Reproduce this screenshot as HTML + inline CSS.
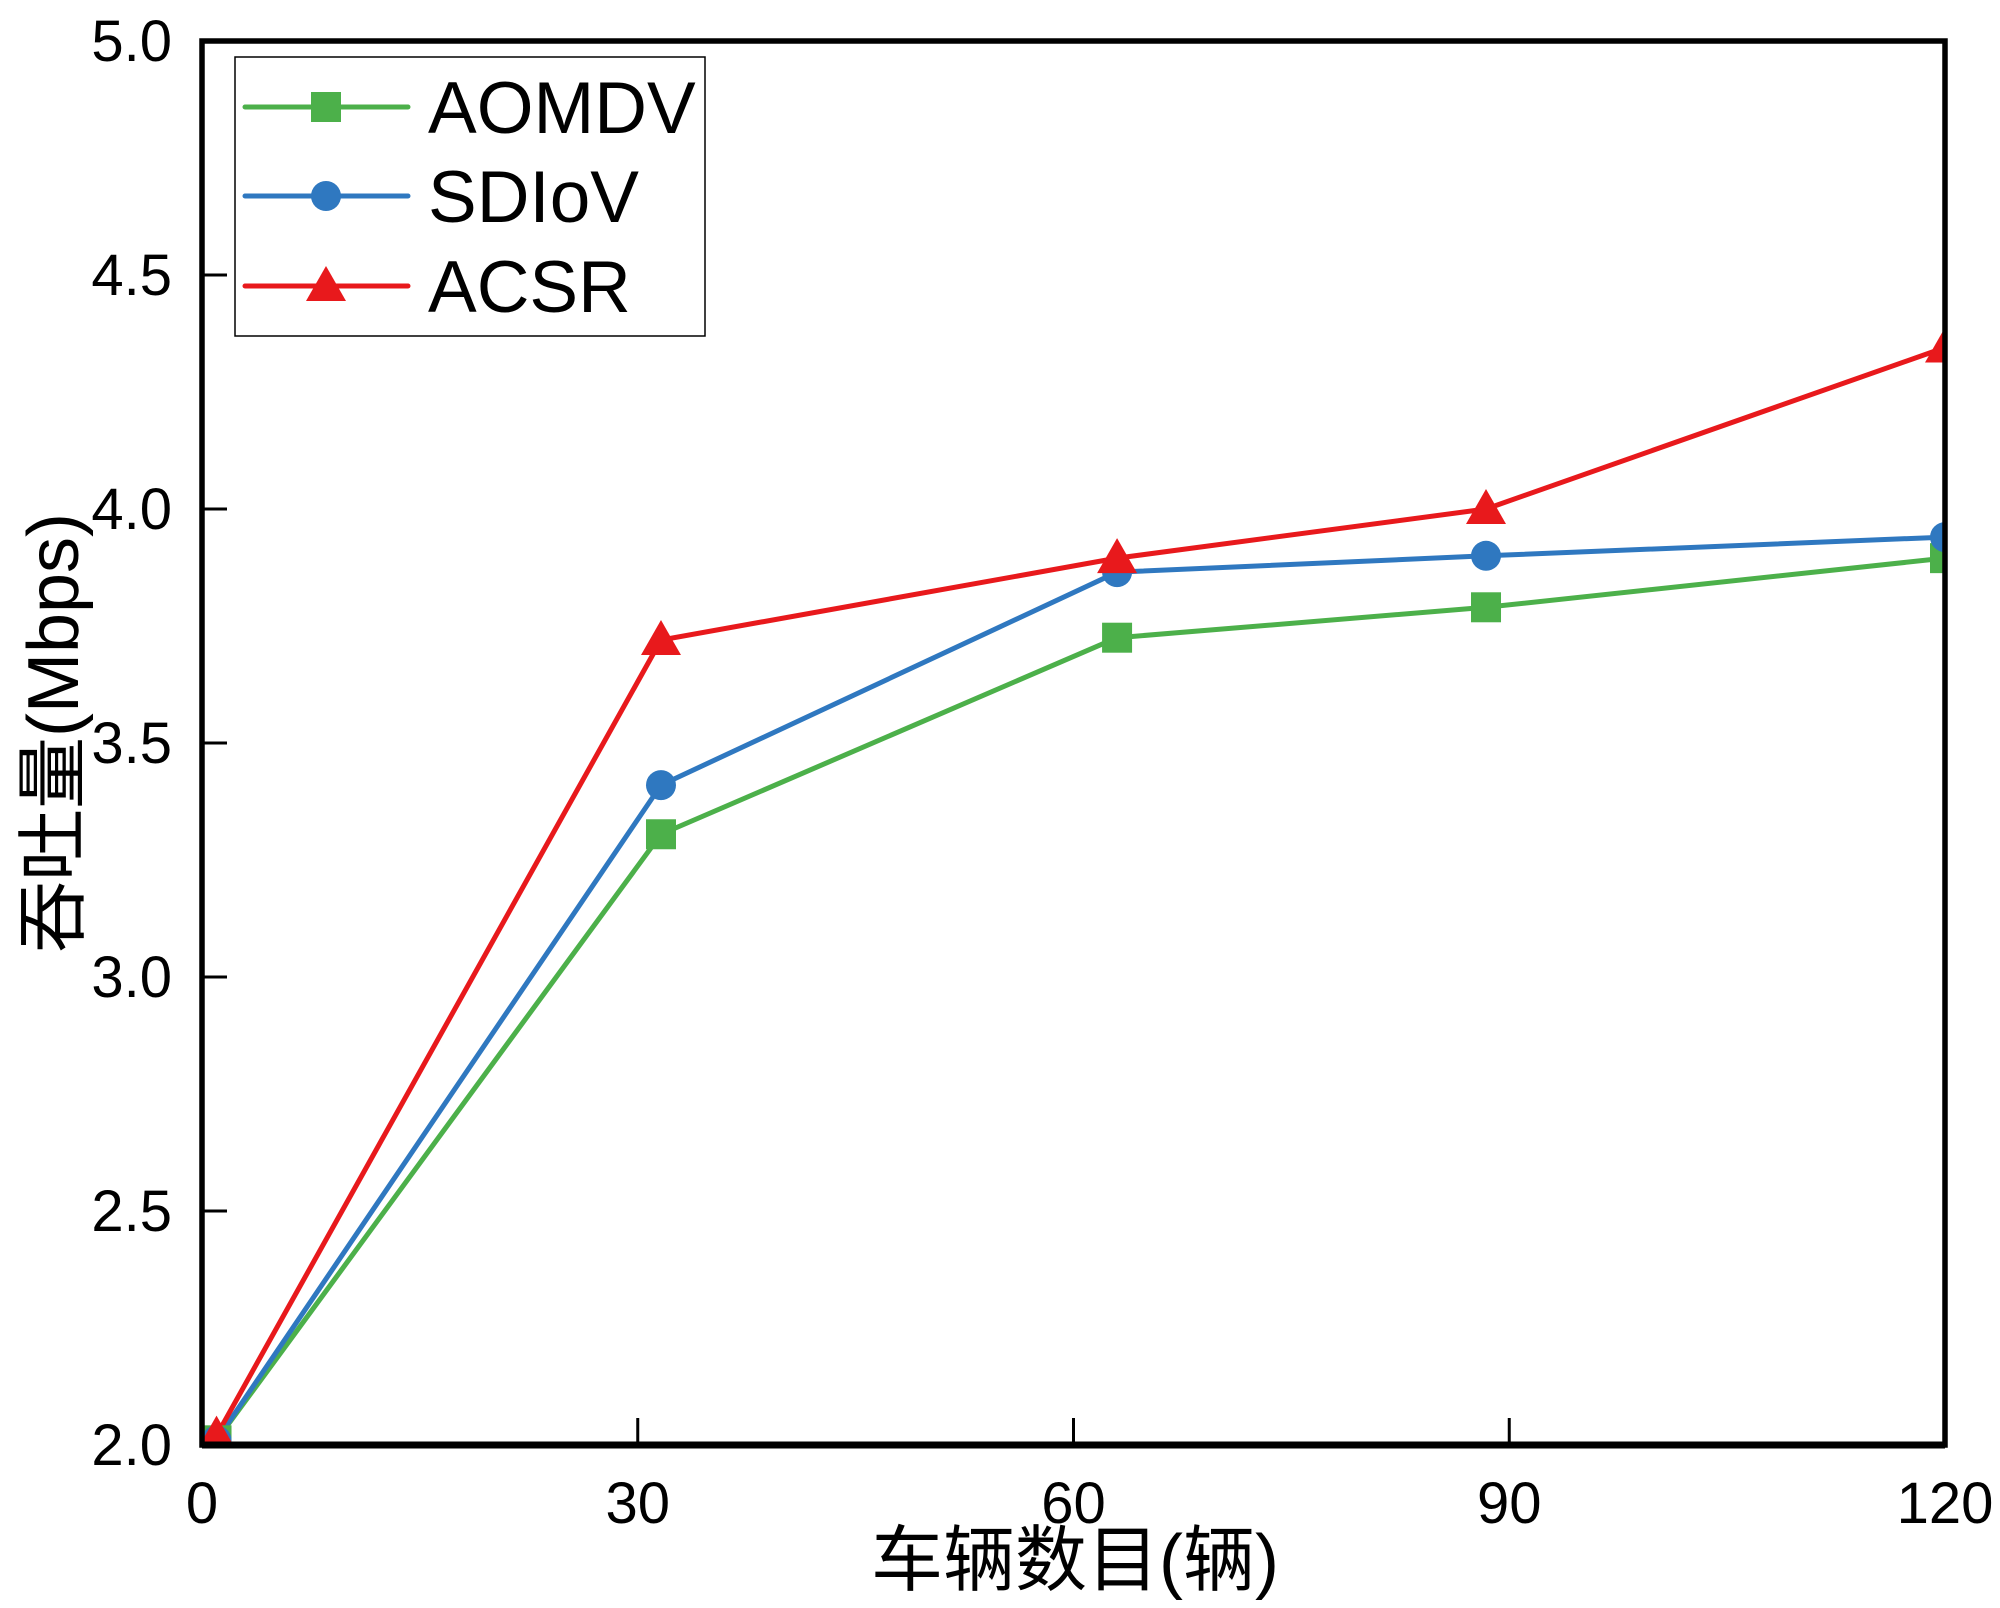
<!DOCTYPE html>
<html><head><meta charset="utf-8"><style>
html,body{margin:0;padding:0;background:#fff;}
svg{display:block;}
text{font-family:"Liberation Sans","Noto Sans CJK SC",sans-serif;fill:#000;}
</style></head><body>
<svg id="chart" width="2000" height="1608" viewBox="0 0 2000 1608" xmlns="http://www.w3.org/2000/svg">
<defs><clipPath id="plotclip"><rect x="202" y="41" width="1743" height="1404"/></clipPath></defs>
<g id="series" clip-path="url(#plotclip)"></g>
<g id="axes"></g>
<g id="legend"></g>
</svg>
<script>
const categories = [1, 31.6, 63, 88.4, 120];
const aomdv = [2.01, 3.305, 3.725, 3.79, 3.895];
const sdiov = [2.01, 3.41, 3.865, 3.90, 3.94];
const acsr = [2.02, 3.72, 3.895, 4.0, 4.345];
const xTicks = [0, 30, 60, 90, 120];
const yTicks = [2.0, 2.5, 3.0, 3.5, 4.0, 4.5, 5.0];
const seriesNames = ["AOMDV", "SDIoV", "ACSR"];

const NS = "http://www.w3.org/2000/svg";
const X0 = 202, X1 = 1945, Y0 = 1445, Y1 = 41;
function xs(v){ return X0 + (v - 0) / 120 * (X1 - X0); }
function ys(v){ return Y0 - (v - 2) / 3 * (Y0 - Y1); }
function mk(tag, attrs, parent){
  const e = document.createElementNS(NS, tag);
  for (const k in attrs) e.setAttribute(k, attrs[k]);
  parent.appendChild(e); return e;
}
const gS = document.getElementById('series');
const gA = document.getElementById('axes');
const gL = document.getElementById('legend');

const cfg = [
  {vals: aomdv, color: '#4cb04a', shape: 'square', key: 'aomdv'},
  {vals: sdiov, color: '#2f78c0', shape: 'circle', key: 'sdiov'},
  {vals: acsr, color: '#e8191c', shape: 'triangle', key: 'acsr'}
];
function marker(shape, cx, cy, color, parent){
  let m;
  if (shape === 'square') m = mk('rect', {x: cx-15, y: cy-15, width: 30, height: 30, fill: color}, parent);
  else if (shape === 'circle') m = mk('circle', {cx: cx, cy: cy, r: 15, fill: color}, parent);
  else m = mk('polygon', {points: `${cx},${cy-20} ${cx+20},${cy+15} ${cx-20},${cy+15}`, fill: color}, parent);
  return m;
}
cfg.forEach(s => {
  const pts = categories.map((c,i) => xs(c) + ',' + ys(s.vals[i])).join(' ');
  const pl = mk('polyline', {points: pts, fill: 'none', stroke: s.color, 'stroke-width': 5, 'stroke-linejoin': 'round'}, gS);
  
  
});
cfg.forEach(s => {
  categories.forEach((c,i) => {
    const m = marker(s.shape, xs(c), ys(s.vals[i]), s.color, gS);
    
    
  });
});

const fr = mk('rect', {x: X0, y: Y1, width: X1-X0, height: Y0-Y1, fill: 'none', stroke: '#000', 'stroke-width': 5.5}, gA);


const bx = mk('line', {x1: X0, y1: Y0, x2: X1, y2: Y0, stroke: '#000', 'stroke-width': 7}, gA);


xTicks.forEach(t => {
  const x = xs(t);
  const l = mk('line', {x1: x, y1: Y0, x2: x, y2: Y0-27, stroke: '#000', 'stroke-width': 3}, gA);
  
  
  const tx = mk('text', {x: x, y: 1523, 'font-size': 58, 'text-anchor': 'middle'}, gA);
  tx.textContent = t;
  
  
});
yTicks.forEach(t => {
  const y = ys(t);
  const l = mk('line', {x1: X0, y1: y, x2: X0+25, y2: y, stroke: '#000', 'stroke-width': 3}, gA);
  
  
  const tx = mk('text', {x: 172, y: y+20, 'font-size': 58, 'text-anchor': 'end'}, gA);
  tx.textContent = t.toFixed(1);
  
  
});
const xt = mk('text', {x: 1075, y: 1585, 'font-size': 72, 'text-anchor': 'middle'}, gA);
xt.textContent = '车辆数目(辆)';


const yt = mk('text', {x: 0, y: 0, 'font-size': 72, 'text-anchor': 'middle', transform: 'translate(78,733) rotate(-90)'}, gA);
yt.textContent = '吞吐量(Mbps)';



const lb = mk('rect', {x: 235, y: 57, width: 470, height: 279, fill: '#fff', stroke: '#000', 'stroke-width': 1.5}, gL);


const ly = [107, 196, 286];
cfg.forEach((s,i) => {
  const l = mk('line', {x1: 245, y1: ly[i], x2: 408, y2: ly[i], stroke: s.color, 'stroke-width': 5, 'stroke-linecap': 'round'}, gL);
  
  
  const m = marker(s.shape, 326, ly[i], s.color, gL);
  
  
  const t = mk('text', {x: 428, y: ly[i]+26, 'font-size': 73}, gL);
  t.textContent = seriesNames[i];
  
  
});
</script>
</body></html>
